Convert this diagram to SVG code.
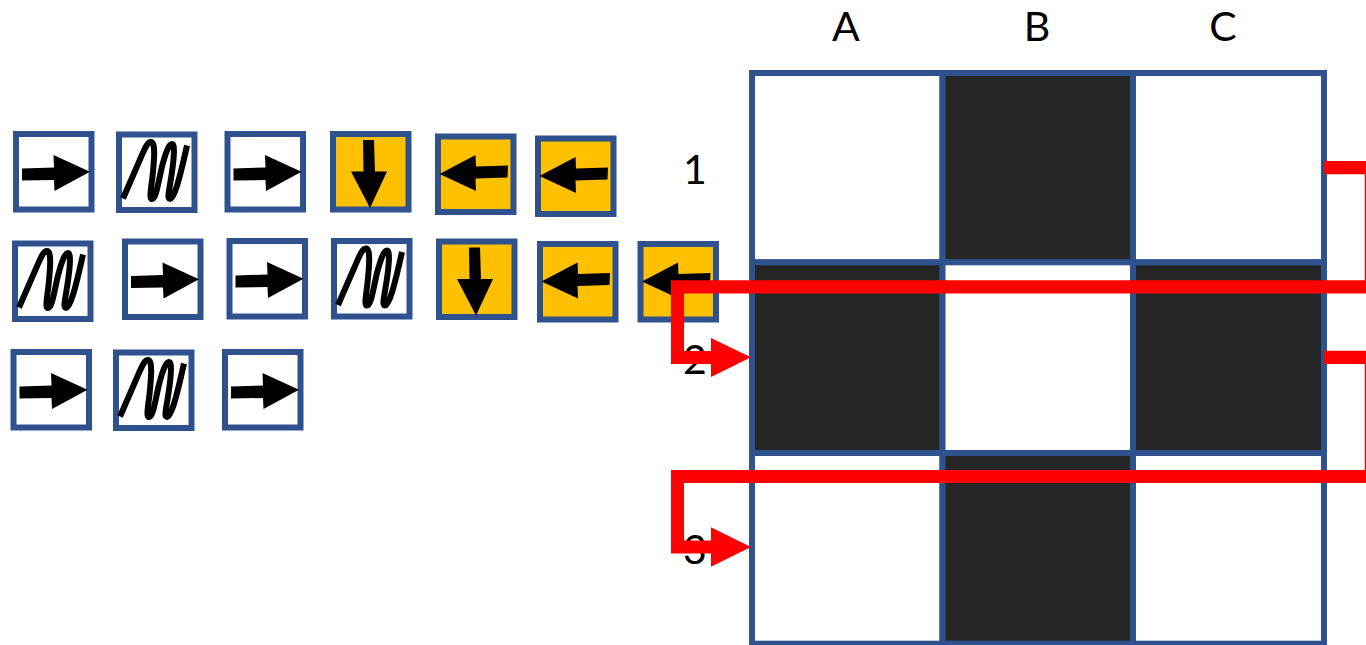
<svg xmlns="http://www.w3.org/2000/svg" width="1366" height="645" viewBox="0 0 1366 645">
<style>
.box{fill:#fff;stroke:#2f528f;stroke-width:6}
.on{fill:#ffc000}
.ink{fill:#000}
.sq{fill:none;stroke:#000;stroke-width:6}
.cell{fill:#fff;stroke:#2f528f;stroke-width:6}
.dark{fill:#262626}
.lbl{font-family:Lato,"Open Sans",sans-serif;font-size:41px;fill:#000;text-anchor:middle}
.red{fill:#f00}
.thin{fill:none;stroke:#f00;stroke-width:1.2}
</style>
<defs>
<g id="right"><rect class="box" x="3" y="3" width="75.500" height="75.500"/><path class="ink" d="M9 37.500L41 36.500L40.500 24L77 40.700L41.500 60L41 49L9 49.500Z"/></g>
<g id="left"><rect class="box on" x="3" y="3" width="75.500" height="75.500"/><path class="ink" d="M73 32L41 33L40.500 21.500L4.500 40.500L41 57.500L40.500 45L72.500 44Z"/></g>
<g id="down"><rect class="box on" x="3" y="3" width="75.500" height="75.500"/><path class="ink" d="M33 9L44 9L45 40.500L57 40.500L40 77L21 40.500L33.500 40.500Z"/></g>
<g id="zig"><rect class="box" x="3" y="3" width="75.500" height="75.500"/><path class="sq" d="M7 67L24 28C28 19 31 10.500 35 10.500C40 10.500 38 30 36.500 45C35 58 33 67.500 36 67.500C40 67.500 42 52 46 35C50 20 53 12.500 56 12.500C60 12.500 57 35 54.500 50C53 60 51 67.500 54 67.500C58 67.500 63 50 71 14"/></g>
</defs>
<g id="box-1-1"><use href="#right" x="13" y="131"/></g>
<g id="box-1-2"><use href="#zig" x="116" y="131.500"/></g>
<g id="box-1-3"><use href="#right" x="224.500" y="131"/></g>
<g id="box-1-4"><use href="#down" x="330" y="131"/></g>
<g id="box-1-5"><use href="#left" x="435" y="133.500"/></g>
<g id="box-1-6"><use href="#left" x="535" y="135.500"/></g>
<g id="box-2-1"><use href="#zig" x="12" y="240.500"/></g>
<g id="box-2-2"><use href="#right" x="122" y="238.500"/></g>
<g id="box-2-3"><use href="#right" x="226.500" y="238"/></g>
<g id="box-2-4"><use href="#zig" x="331" y="238"/></g>
<g id="box-2-5"><use href="#down" x="436" y="238.500"/></g>
<g id="box-2-6"><use href="#left" x="537" y="241"/></g>
<g id="box-2-7"><use href="#left" x="637.500" y="241"/></g>
<g id="box-3-1"><use href="#right" x="10.500" y="349"/></g>
<g id="box-3-2"><use href="#zig" x="113" y="349.500"/></g>
<g id="box-3-3"><use href="#right" x="222" y="349"/></g>
<g id="grid">
<rect class="cell" x="752" y="73" width="190.500" height="189.300"/>
<rect class="cell dark" x="942.500" y="73" width="190.500" height="189.300"/>
<rect class="cell" x="1133" y="73" width="191" height="189.300"/>
<rect class="cell dark" x="752" y="262.300" width="190.500" height="190.700"/>
<rect class="cell" x="942.500" y="262.300" width="190.500" height="190.700"/>
<rect class="cell dark" x="1133" y="262.300" width="191" height="190.700"/>
<rect class="cell" x="752" y="453" width="190.500" height="190.700"/>
<rect class="cell dark" x="942.500" y="453" width="190.500" height="190.700"/>
<rect class="cell" x="1133" y="453" width="191" height="190.700"/>
</g>
<g id="labels">
<text class="lbl" x="846" y="41">A</text>
<text class="lbl" x="1037" y="41">B</text>
<text class="lbl" x="1223" y="41">C</text>
<text class="lbl" x="695" y="183.500">1</text>
<text class="lbl" x="695" y="373.500">2</text>
<text class="lbl" x="695" y="563.500">3</text>
</g>
<g id="connectors">
<path class="red" d="M1324 161H1366V174.300H1324Z"/>
<path class="thin" d="M1365.400 174V281"/>
<path class="red" d="M1366 280.300H671V364H711V377L751 357.300L711 338V351H684V293.500H1366Z"/>
<path class="red" d="M1324 350.700H1366V364H1324Z"/>
<path class="thin" d="M1365.400 364V471"/>
<path class="red" d="M1366 470H671V553.500H711V566.700L751 547L711 527.300V540.500H684V483H1366Z"/>
</g>
</svg>
